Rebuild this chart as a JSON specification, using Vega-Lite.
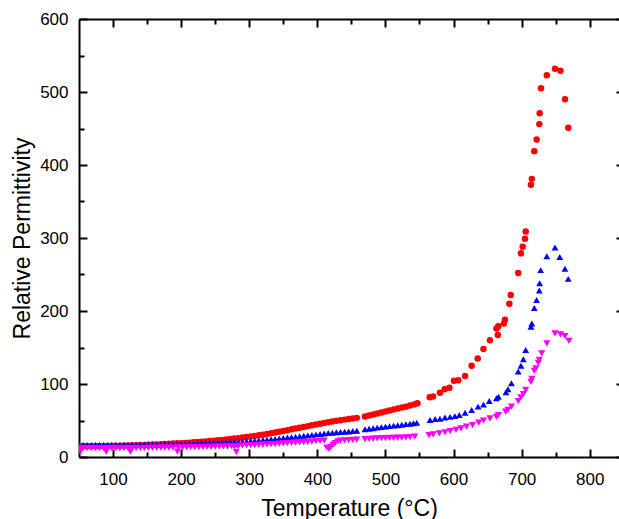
{
  "$schema": "https://vega.github.io/schema/vega-lite/v6.json",
  "width": 540,
  "height": 438,
  "autosize": {"type": "none"},
  "padding": {"left": 79, "top": 19, "right": 0, "bottom": 62},
  "background": "white",
  "config": {
    "view": {"stroke": null},
    "font": "Liberation Sans",
    "axis": {
      "grid": false,
      "labelFont": "Liberation Sans",
      "labelFontSize": 17,
      "labelColor": "#000000",
      "titleFont": "Liberation Sans",
      "titleFontSize": 23,
      "titleFontWeight": "normal",
      "titleColor": "#000000",
      "domainColor": "#000000",
      "domainWidth": 2,
      "tickColor": "#000000",
      "tickWidth": 2
    }
  },
  "data": {"values": [
    {"s":"r","t":50,"v":15.0},{"s":"r","t":56,"v":15.0},{"s":"r","t":62,"v":15.0},{"s":"r","t":68,"v":15.0},{"s":"r","t":74,"v":15.0},{"s":"r","t":80,"v":15.1},{"s":"r","t":86,"v":15.1},{"s":"r","t":92,"v":15.2},{"s":"r","t":98,"v":15.3},{"s":"r","t":104,"v":15.4},{"s":"r","t":110,"v":15.5},{"s":"r","t":116,"v":15.6},{"s":"r","t":122,"v":15.8},{"s":"r","t":128,"v":16.0},{"s":"r","t":134,"v":16.2},{"s":"r","t":140,"v":16.4},{"s":"r","t":146,"v":16.6},{"s":"r","t":152,"v":16.8},{"s":"r","t":158,"v":17.1},{"s":"r","t":164,"v":17.3},{"s":"r","t":170,"v":17.6},{"s":"r","t":176,"v":17.9},{"s":"r","t":182,"v":18.1},{"s":"r","t":188,"v":18.4},{"s":"r","t":194,"v":18.7},{"s":"r","t":200,"v":19.0},{"s":"r","t":206,"v":19.3},{"s":"r","t":212,"v":19.7},{"s":"r","t":218,"v":20.1},{"s":"r","t":224,"v":20.5},{"s":"r","t":230,"v":20.9},{"s":"r","t":236,"v":21.4},{"s":"r","t":242,"v":21.9},{"s":"r","t":248,"v":22.4},{"s":"r","t":254,"v":22.9},{"s":"r","t":260,"v":23.4},{"s":"r","t":266,"v":24.0},{"s":"r","t":272,"v":24.6},{"s":"r","t":278,"v":25.2},{"s":"r","t":284,"v":25.8},{"s":"r","t":290,"v":26.6},{"s":"r","t":296,"v":27.4},{"s":"r","t":302,"v":28.1},{"s":"r","t":308,"v":28.9},{"s":"r","t":314,"v":29.7},{"s":"r","t":320,"v":30.6},{"s":"r","t":326,"v":31.5},{"s":"r","t":332,"v":32.5},{"s":"r","t":338,"v":33.5},{"s":"r","t":344,"v":34.6},{"s":"r","t":350,"v":35.7},{"s":"r","t":356,"v":36.8},{"s":"r","t":362,"v":37.9},{"s":"r","t":368,"v":39.0},{"s":"r","t":374,"v":40.1},{"s":"r","t":380,"v":41.2},{"s":"r","t":386,"v":42.3},{"s":"r","t":392,"v":43.4},{"s":"r","t":398,"v":44.5},{"s":"r","t":404,"v":45.6},{"s":"r","t":410,"v":46.6},{"s":"r","t":416,"v":47.6},{"s":"r","t":422,"v":48.6},{"s":"r","t":428,"v":49.5},{"s":"r","t":434,"v":50.4},{"s":"r","t":440,"v":51.2},{"s":"r","t":446,"v":52.0},{"s":"r","t":452,"v":52.8},{"s":"r","t":458,"v":53.6},
    {"s":"r","t":470,"v":55.5},{"s":"r","t":476,"v":57.0},{"s":"r","t":482,"v":58.3},{"s":"r","t":488,"v":59.6},{"s":"r","t":494,"v":61.0},{"s":"r","t":500,"v":62.3},{"s":"r","t":506,"v":63.6},{"s":"r","t":512,"v":65.0},{"s":"r","t":518,"v":66.3},{"s":"r","t":524,"v":67.7},{"s":"r","t":530,"v":69.0},{"s":"r","t":536,"v":70.5},{"s":"r","t":542,"v":72.0},{"s":"r","t":547,"v":73.5},
    {"s":"r","t":565,"v":82},{"s":"r","t":570,"v":83},{"s":"r","t":580,"v":88},{"s":"r","t":587,"v":92.7},{"s":"r","t":594,"v":95},{"s":"r","t":600.6,"v":104.5},{"s":"r","t":607,"v":105},{"s":"r","t":617,"v":111},{"s":"r","t":626.6,"v":125},{"s":"r","t":635.5,"v":135},{"s":"r","t":644,"v":148},{"s":"r","t":653.5,"v":160},{"s":"r","t":663,"v":176},{"s":"r","t":665,"v":167},{"s":"r","t":665.7,"v":179},{"s":"r","t":674,"v":183},{"s":"r","t":675.5,"v":188},{"s":"r","t":682,"v":210},{"s":"r","t":684,"v":222},{"s":"r","t":695,"v":252},{"s":"r","t":699,"v":279},{"s":"r","t":701.5,"v":288},{"s":"r","t":705,"v":299},{"s":"r","t":706,"v":309},{"s":"r","t":713.7,"v":373},{"s":"r","t":715,"v":381},{"s":"r","t":718.6,"v":419},{"s":"r","t":722,"v":435},{"s":"r","t":726,"v":456},{"s":"r","t":726.5,"v":471},{"s":"r","t":728.5,"v":505},{"s":"r","t":737,"v":523},{"s":"r","t":749,"v":532},{"s":"r","t":757,"v":529},{"s":"r","t":763.7,"v":490},{"s":"r","t":768.5,"v":451},

    {"s":"b","t":50,"v":16.5},{"s":"b","t":56,"v":16.5},{"s":"b","t":62,"v":16.5},{"s":"b","t":68,"v":16.5},{"s":"b","t":74,"v":16.5},{"s":"b","t":80,"v":16.5},{"s":"b","t":86,"v":16.5},{"s":"b","t":92,"v":16.5},{"s":"b","t":98,"v":16.5},{"s":"b","t":104,"v":16.6},{"s":"b","t":110,"v":16.6},{"s":"b","t":116,"v":16.7},{"s":"b","t":122,"v":16.7},{"s":"b","t":128,"v":16.8},{"s":"b","t":134,"v":16.8},{"s":"b","t":140,"v":16.9},{"s":"b","t":146,"v":17.0},{"s":"b","t":152,"v":17.0},{"s":"b","t":158,"v":17.1},{"s":"b","t":164,"v":17.2},{"s":"b","t":170,"v":17.3},{"s":"b","t":176,"v":17.4},{"s":"b","t":182,"v":17.5},{"s":"b","t":188,"v":17.6},{"s":"b","t":194,"v":17.8},{"s":"b","t":200,"v":18.0},{"s":"b","t":206,"v":18.2},{"s":"b","t":212,"v":18.4},{"s":"b","t":218,"v":18.6},{"s":"b","t":224,"v":18.8},{"s":"b","t":230,"v":19.0},{"s":"b","t":236,"v":19.2},{"s":"b","t":242,"v":19.4},{"s":"b","t":248,"v":19.6},{"s":"b","t":254,"v":19.8},{"s":"b","t":260,"v":20.0},{"s":"b","t":266,"v":20.2},{"s":"b","t":272,"v":20.5},{"s":"b","t":278,"v":20.8},{"s":"b","t":281,"v":17.5},{"s":"b","t":284,"v":21.0},{"s":"b","t":290,"v":21.3},{"s":"b","t":296,"v":21.6},{"s":"b","t":302,"v":22.0},{"s":"b","t":308,"v":22.4},{"s":"b","t":314,"v":22.8},{"s":"b","t":320,"v":23.3},{"s":"b","t":326,"v":23.8},{"s":"b","t":332,"v":24.3},{"s":"b","t":338,"v":24.8},{"s":"b","t":344,"v":25.4},{"s":"b","t":350,"v":26.0},{"s":"b","t":356,"v":26.6},{"s":"b","t":362,"v":27.2},{"s":"b","t":368,"v":27.8},{"s":"b","t":374,"v":28.4},{"s":"b","t":380,"v":29.0},{"s":"b","t":386,"v":29.6},{"s":"b","t":392,"v":30.3},{"s":"b","t":398,"v":31.0},{"s":"b","t":404,"v":31.6},{"s":"b","t":410,"v":32.2},{"s":"b","t":416,"v":32.8},{"s":"b","t":422,"v":33.3},{"s":"b","t":428,"v":33.8},{"s":"b","t":434,"v":34.2},{"s":"b","t":440,"v":34.6},{"s":"b","t":446,"v":35.0},{"s":"b","t":452,"v":35.5},{"s":"b","t":458,"v":36.0},
    {"s":"b","t":470,"v":38},{"s":"b","t":476,"v":38.8},{"s":"b","t":482,"v":39.5},{"s":"b","t":488,"v":40.2},{"s":"b","t":494,"v":40.9},{"s":"b","t":500,"v":41.6},{"s":"b","t":506,"v":42.3},{"s":"b","t":512,"v":43.0},{"s":"b","t":518,"v":43.6},{"s":"b","t":524,"v":44.2},{"s":"b","t":530,"v":45.0},{"s":"b","t":536,"v":45.6},{"s":"b","t":541,"v":46.3},{"s":"b","t":546,"v":47.0},
    {"s":"b","t":565.5,"v":50.7},{"s":"b","t":573,"v":52},{"s":"b","t":580,"v":52.5},{"s":"b","t":587.5,"v":54},{"s":"b","t":595,"v":55},{"s":"b","t":602,"v":56},{"s":"b","t":608.5,"v":57.5},{"s":"b","t":617,"v":60.7},{"s":"b","t":626.6,"v":64.4},{"s":"b","t":636,"v":69},{"s":"b","t":644,"v":72},{"s":"b","t":652.5,"v":76.7},{"s":"b","t":663,"v":80.4},{"s":"b","t":666,"v":82.6},{"s":"b","t":677,"v":88.6},{"s":"b","t":680,"v":92.7},{"s":"b","t":685,"v":101},{"s":"b","t":695,"v":117},{"s":"b","t":699,"v":125},{"s":"b","t":702.5,"v":134},{"s":"b","t":706,"v":146.6},{"s":"b","t":713.7,"v":178.5},{"s":"b","t":715,"v":183},{"s":"b","t":718.6,"v":204},{"s":"b","t":722,"v":215},{"s":"b","t":726,"v":228},{"s":"b","t":726.5,"v":238},{"s":"b","t":728,"v":256},{"s":"b","t":737,"v":275},{"s":"b","t":749,"v":287},{"s":"b","t":756,"v":274},{"s":"b","t":763.6,"v":258},{"s":"b","t":768.5,"v":244},

    {"s":"m","t":50,"v":12},{"s":"m","t":52,"v":7.5},{"s":"m","t":56,"v":12},{"s":"m","t":62,"v":12},{"s":"m","t":68,"v":12},{"s":"m","t":74,"v":12},{"s":"m","t":80,"v":12},{"s":"m","t":86,"v":12},{"s":"m","t":90,"v":7.5},{"s":"m","t":92,"v":12},{"s":"m","t":98,"v":12},{"s":"m","t":104,"v":12},{"s":"m","t":110,"v":12},{"s":"m","t":116,"v":12.1},{"s":"m","t":122,"v":12.1},{"s":"m","t":125.5,"v":7.5},{"s":"m","t":128,"v":12.1},{"s":"m","t":134,"v":12.2},{"s":"m","t":140,"v":12.2},{"s":"m","t":146,"v":12.3},{"s":"m","t":152,"v":12.4},{"s":"m","t":158,"v":12.5},{"s":"m","t":164,"v":12.6},{"s":"m","t":170,"v":12.7},{"s":"m","t":176,"v":12.8},{"s":"m","t":182,"v":12.9},{"s":"m","t":188,"v":13.0},{"s":"m","t":194.5,"v":7.5},{"s":"m","t":196,"v":13.1},{"s":"m","t":202,"v":13.2},{"s":"m","t":208,"v":13.3},{"s":"m","t":214,"v":13.4},{"s":"m","t":220,"v":13.5},{"s":"m","t":226,"v":13.6},{"s":"m","t":232,"v":13.7},{"s":"m","t":238,"v":13.8},{"s":"m","t":244,"v":14.0},{"s":"m","t":250,"v":14.1},{"s":"m","t":256,"v":14.3},{"s":"m","t":262,"v":14.4},{"s":"m","t":268,"v":14.6},{"s":"m","t":274,"v":14.8},{"s":"m","t":278,"v":15.0},{"s":"m","t":281,"v":7},{"s":"m","t":284,"v":15.2},{"s":"m","t":290,"v":15.5},{"s":"m","t":296,"v":15.8},{"s":"m","t":302,"v":16.0},{"s":"m","t":308,"v":16.3},{"s":"m","t":314,"v":16.6},{"s":"m","t":320,"v":16.9},{"s":"m","t":326,"v":17.2},{"s":"m","t":332,"v":17.5},{"s":"m","t":338,"v":17.8},{"s":"m","t":344,"v":18.2},{"s":"m","t":350,"v":18.5},{"s":"m","t":356,"v":18.9},{"s":"m","t":362,"v":19.2},{"s":"m","t":368,"v":19.6},{"s":"m","t":374,"v":20.0},{"s":"m","t":380,"v":20.4},{"s":"m","t":386,"v":20.8},{"s":"m","t":392,"v":21.2},{"s":"m","t":398,"v":21.6},{"s":"m","t":404,"v":22.0},{"s":"m","t":410,"v":22.3},{"s":"m","t":414,"v":13},{"s":"m","t":417,"v":11},{"s":"m","t":420,"v":14},{"s":"m","t":423,"v":16.5},{"s":"m","t":426,"v":19},{"s":"m","t":430,"v":21.5},{"s":"m","t":434,"v":22.5},{"s":"m","t":440,"v":22.8},{"s":"m","t":446,"v":23.1},{"s":"m","t":452,"v":23.4},{"s":"m","t":458,"v":23.7},
    {"s":"m","t":470,"v":24.5},{"s":"m","t":476,"v":24.8},{"s":"m","t":482,"v":25.1},{"s":"m","t":488,"v":25.4},{"s":"m","t":494,"v":25.7},{"s":"m","t":500,"v":25.9},{"s":"m","t":506,"v":26.1},{"s":"m","t":512,"v":26.3},{"s":"m","t":518,"v":26.5},{"s":"m","t":524,"v":26.7},{"s":"m","t":530,"v":27.0},{"s":"m","t":536,"v":27.3},{"s":"m","t":543,"v":27.8},
    {"s":"m","t":564,"v":30},{"s":"m","t":570,"v":31},{"s":"m","t":579,"v":32.4},{"s":"m","t":587.5,"v":33.8},{"s":"m","t":595,"v":35.6},{"s":"m","t":603.6,"v":37},{"s":"m","t":611,"v":39.3},{"s":"m","t":619,"v":41.5},{"s":"m","t":628,"v":43.8},{"s":"m","t":637,"v":47},{"s":"m","t":644,"v":50},{"s":"m","t":653.5,"v":53},{"s":"m","t":663,"v":55},{"s":"m","t":666,"v":57.5},{"s":"m","t":676.5,"v":62},{"s":"m","t":680,"v":64.4},{"s":"m","t":685,"v":69},{"s":"m","t":695,"v":76.7},{"s":"m","t":699,"v":81.8},{"s":"m","t":702.5,"v":86},{"s":"m","t":706,"v":91.8},{"s":"m","t":713.7,"v":103},{"s":"m","t":715,"v":107},{"s":"m","t":718.6,"v":118},{"s":"m","t":721,"v":121.5},{"s":"m","t":724.5,"v":129},{"s":"m","t":726,"v":133},{"s":"m","t":729.5,"v":142},{"s":"m","t":737,"v":155.7},{"s":"m","t":749,"v":169.4},{"s":"m","t":757,"v":168},{"s":"m","t":763.6,"v":165.7},{"s":"m","t":769.5,"v":159}
  ]},
  "resolve": {"axis": {"x": "independent", "y": "independent"}},
  "layer": [
    {
      "mark": {"type": "point", "filled": true, "opacity": 1, "clip": true},
      "encoding": {
        "x": {"field": "t", "type": "quantitative", "scale": {"domain": [50, 843], "nice": false, "zero": false},
              "axis": {"orient": "bottom", "values": [100,200,300,400,500,600,700,800], "ticks": false, "domain": true, "labelPadding": 14, "title": "Temperature (°C)", "titlePadding": 10}},
        "y": {"field": "v", "type": "quantitative", "scale": {"domain": [0, 600], "nice": false, "zero": false},
              "axis": {"orient": "left", "values": [0,100,200,300,400,500,600], "ticks": false, "domain": true, "labelPadding": 11, "title": "Relative Permittivity", "titlePadding": 5}},
        "color": {"field": "s", "type": "nominal", "scale": {"domain": ["r","b","m"], "range": ["#ff0000","#0000ff","#ff00ff"]}, "legend": null},
        "shape": {"field": "s", "type": "nominal", "scale": {"domain": ["r","b","m"], "range": ["circle","triangle-up","triangle-down"]}, "legend": null},
        "size": {"field": "s", "type": "nominal", "scale": {"domain": ["r","b","m"], "range": [42, 52, 52]}, "legend": null}
      }
    },
    {
      "mark": {"type": "point", "opacity": 0},
      "encoding": {
        "x": {"field": "t", "type": "quantitative", "axis": {"orient": "top", "values": [100,200,300,400,500,600,700,800], "labels": false, "domain": true, "tickSize": -8, "title": null}},
        "y": {"field": "v", "type": "quantitative", "axis": {"orient": "right", "offset": 5, "values": [0,100,200,300,400,500,600], "labels": false, "domain": false, "tickSize": -8, "title": null}}
      }
    },
    {
      "mark": {"type": "point", "opacity": 0},
      "encoding": {
        "x": {"field": "t", "type": "quantitative", "axis": {"orient": "bottom", "values": [100,200,300,400,500,600,700,800], "labels": false, "domain": false, "tickSize": -8, "title": null}},
        "y": {"field": "v", "type": "quantitative", "axis": {"orient": "left", "values": [0,100,200,300,400,500,600], "labels": false, "domain": false, "tickSize": -8, "title": null}}
      }
    },
    {
      "mark": {"type": "point", "opacity": 0},
      "encoding": {
        "x": {"field": "t", "type": "quantitative", "axis": {"orient": "top", "values": [150,250,350,450,550,650,750], "labels": false, "domain": false, "tickSize": -5, "title": null}},
        "y": {"field": "v", "type": "quantitative", "axis": {"orient": "right", "offset": 5, "values": [50,150,250,350,450,550], "labels": false, "domain": false, "tickSize": -5, "title": null}}
      }
    },
    {
      "mark": {"type": "point", "opacity": 0},
      "encoding": {
        "x": {"field": "t", "type": "quantitative", "axis": {"orient": "bottom", "values": [150,250,350,450,550,650,750], "labels": false, "domain": false, "tickSize": -5, "title": null}},
        "y": {"field": "v", "type": "quantitative", "axis": {"orient": "left", "values": [50,150,250,350,450,550], "labels": false, "domain": false, "tickSize": -5, "title": null}}
      }
    }
  ]
}
